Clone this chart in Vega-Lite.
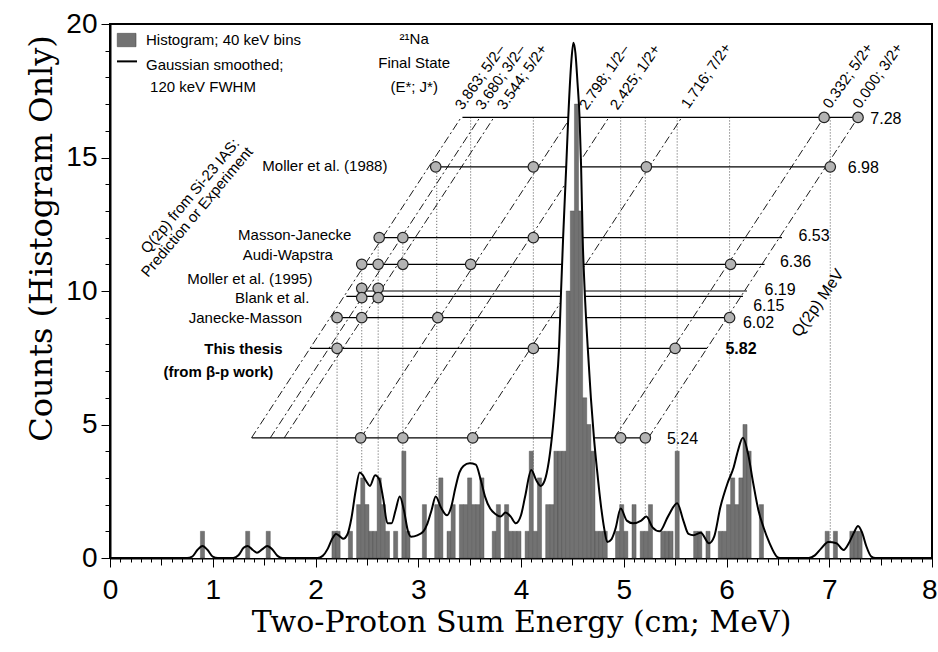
{
 "$schema": "https://vega.github.io/schema/vega-lite/v6.json",
 "width": 822, "height": 534,
 "autosize": {"type": "none"},
 "padding": {"left": 110, "top": 24, "right": 6, "bottom": 94},
 "background": "white",
 "config": {"view": {"stroke": "black", "strokeWidth": 2}, "font": "Liberation Sans", "text": {"font": "Liberation Sans", "fontSize": 15, "color": "black"},
  "axisX": {"tickCount": 80, "labelOverlap": false, "labelFlush": false, "grid": false},
  "axisY": {"tickCount": 20, "labelOverlap": false, "labelFlush": false, "grid": false}},
 "datasets": {
  "hist": [{"x0":0.88,"x1":0.92,"c":1},{"x0":1.32,"x1":1.36,"c":1},{"x0":1.52,"x1":1.56,"c":1},{"x0":2.16,"x1":2.2,"c":1},{"x0":2.2,"x1":2.24,"c":1},{"x0":2.32,"x1":2.36,"c":1},{"x0":2.4,"x1":2.44,"c":2},{"x0":2.44,"x1":2.48,"c":3},{"x0":2.48,"x1":2.52,"c":2},{"x0":2.52,"x1":2.56,"c":1},{"x0":2.56,"x1":2.6,"c":1},{"x0":2.6,"x1":2.64,"c":3},{"x0":2.64,"x1":2.68,"c":2},{"x0":2.68,"x1":2.72,"c":1},{"x0":2.76,"x1":2.8,"c":1},{"x0":2.84,"x1":2.88,"c":4},{"x0":2.88,"x1":2.92,"c":1},{"x0":3.04,"x1":3.08,"c":2},{"x0":3.16,"x1":3.2,"c":2},{"x0":3.2,"x1":3.24,"c":3},{"x0":3.28,"x1":3.32,"c":1},{"x0":3.32,"x1":3.36,"c":2},{"x0":3.4,"x1":3.44,"c":2},{"x0":3.44,"x1":3.48,"c":2},{"x0":3.48,"x1":3.52,"c":3},{"x0":3.52,"x1":3.56,"c":2},{"x0":3.56,"x1":3.6,"c":2},{"x0":3.6,"x1":3.64,"c":3},{"x0":3.72,"x1":3.76,"c":1},{"x0":3.76,"x1":3.8,"c":2},{"x0":3.84,"x1":3.88,"c":2},{"x0":3.88,"x1":3.92,"c":1},{"x0":3.92,"x1":3.96,"c":1},{"x0":3.96,"x1":4.0,"c":1},{"x0":4.04,"x1":4.08,"c":1},{"x0":4.08,"x1":4.12,"c":4},{"x0":4.12,"x1":4.16,"c":1},{"x0":4.16,"x1":4.2,"c":3},{"x0":4.24,"x1":4.28,"c":2},{"x0":4.28,"x1":4.32,"c":2},{"x0":4.32,"x1":4.36,"c":4},{"x0":4.36,"x1":4.4,"c":4},{"x0":4.4,"x1":4.44,"c":4},{"x0":4.44,"x1":4.48,"c":10},{"x0":4.48,"x1":4.52,"c":13},{"x0":4.52,"x1":4.56,"c":17},{"x0":4.56,"x1":4.6,"c":13},{"x0":4.6,"x1":4.64,"c":6},{"x0":4.64,"x1":4.68,"c":5},{"x0":4.68,"x1":4.72,"c":4},{"x0":4.72,"x1":4.76,"c":1},{"x0":4.76,"x1":4.8,"c":1},{"x0":4.8,"x1":4.84,"c":1},{"x0":4.92,"x1":4.96,"c":1},{"x0":4.96,"x1":5.0,"c":2},{"x0":5.0,"x1":5.04,"c":1},{"x0":5.08,"x1":5.12,"c":2},{"x0":5.16,"x1":5.2,"c":1},{"x0":5.2,"x1":5.24,"c":1},{"x0":5.24,"x1":5.28,"c":2},{"x0":5.36,"x1":5.4,"c":1},{"x0":5.4,"x1":5.44,"c":1},{"x0":5.44,"x1":5.48,"c":1},{"x0":5.5,"x1":5.54,"c":4},{"x0":5.68,"x1":5.72,"c":1},{"x0":5.72,"x1":5.76,"c":1},{"x0":5.8,"x1":5.84,"c":1},{"x0":5.92,"x1":5.96,"c":1},{"x0":5.96,"x1":6.0,"c":1},{"x0":6.0,"x1":6.04,"c":2},{"x0":6.04,"x1":6.08,"c":3},{"x0":6.08,"x1":6.12,"c":2},{"x0":6.12,"x1":6.16,"c":3},{"x0":6.16,"x1":6.2,"c":5},{"x0":6.2,"x1":6.24,"c":4},{"x0":6.32,"x1":6.36,"c":2},{"x0":6.96,"x1":7.0,"c":1},{"x0":7.04,"x1":7.08,"c":1},{"x0":7.2,"x1":7.24,"c":1},{"x0":7.24,"x1":7.28,"c":1},{"x0":7.28,"x1":7.32,"c":1}],
  "curve": [{"e":0,"c":0},{"e":0.75,"c":0},{"e":0.8,"c":0.05},{"e":0.85,"c":0.3},{"e":0.9,"c":0.45},{"e":0.95,"c":0.3},{"e":1.0,"c":0.05},{"e":1.05,"c":0},{"e":1.2,"c":0},{"e":1.25,"c":0.1},{"e":1.3,"c":0.38},{"e":1.34,"c":0.45},{"e":1.39,"c":0.3},{"e":1.43,"c":0.2},{"e":1.48,"c":0.32},{"e":1.53,"c":0.45},{"e":1.58,"c":0.32},{"e":1.63,"c":0.08},{"e":1.68,"c":0},{"e":2.02,"c":0},{"e":2.07,"c":0.08},{"e":2.12,"c":0.35},{"e":2.16,"c":0.7},{"e":2.2,"c":0.9},{"e":2.24,"c":0.8},{"e":2.27,"c":0.72},{"e":2.31,"c":0.88},{"e":2.35,"c":1.5},{"e":2.39,"c":2.5},{"e":2.43,"c":3.2},{"e":2.46,"c":3.1},{"e":2.49,"c":2.9},{"e":2.53,"c":2.7},{"e":2.58,"c":3.1},{"e":2.62,"c":2.95},{"e":2.66,"c":2.2},{"e":2.7,"c":1.3},{"e":2.74,"c":1.3},{"e":2.78,"c":1.8},{"e":2.82,"c":2.3},{"e":2.86,"c":1.8},{"e":2.9,"c":1.0},{"e":2.93,"c":0.8},{"e":2.99,"c":0.85},{"e":3.05,"c":1.0},{"e":3.09,"c":1.3},{"e":3.13,"c":1.8},{"e":3.17,"c":2.3},{"e":3.22,"c":1.9},{"e":3.28,"c":1.6},{"e":3.32,"c":1.9},{"e":3.36,"c":2.6},{"e":3.4,"c":3.2},{"e":3.44,"c":3.45},{"e":3.5,"c":3.55},{"e":3.56,"c":3.5},{"e":3.61,"c":2.9},{"e":3.65,"c":2.3},{"e":3.7,"c":1.85},{"e":3.75,"c":1.65},{"e":3.8,"c":1.55},{"e":3.85,"c":1.7},{"e":3.9,"c":1.55},{"e":3.95,"c":1.3},{"e":4.0,"c":1.6},{"e":4.04,"c":2.3},{"e":4.1,"c":3.3},{"e":4.15,"c":2.9},{"e":4.19,"c":2.7},{"e":4.23,"c":2.9},{"e":4.27,"c":3.6},{"e":4.3,"c":4.5},{"e":4.34,"c":6.2},{"e":4.37,"c":7.85},{"e":4.39,"c":10.0},{"e":4.41,"c":12.0},{"e":4.44,"c":14.65},{"e":4.46,"c":16.5},{"e":4.49,"c":18.6},{"e":4.51,"c":19.3},{"e":4.53,"c":18.9},{"e":4.55,"c":17.8},{"e":4.57,"c":16.5},{"e":4.585,"c":14.65},{"e":4.6,"c":12.0},{"e":4.62,"c":10.0},{"e":4.65,"c":7.85},{"e":4.68,"c":6.0},{"e":4.71,"c":4.5},{"e":4.74,"c":3.3},{"e":4.78,"c":1.9},{"e":4.81,"c":1.1},{"e":4.84,"c":0.6},{"e":4.88,"c":0.7},{"e":4.92,"c":1.1},{"e":4.97,"c":1.85},{"e":5.03,"c":1.4},{"e":5.09,"c":1.3},{"e":5.17,"c":1.4},{"e":5.22,"c":1.55},{"e":5.28,"c":1.15},{"e":5.35,"c":1.0},{"e":5.43,"c":1.55},{"e":5.52,"c":2.05},{"e":5.58,"c":1.4},{"e":5.63,"c":0.9},{"e":5.68,"c":0.85},{"e":5.75,"c":0.95},{"e":5.83,"c":0.55},{"e":5.88,"c":0.8},{"e":5.94,"c":1.9},{"e":6.01,"c":2.8},{"e":6.07,"c":3.4},{"e":6.11,"c":4.0},{"e":6.16,"c":4.5},{"e":6.21,"c":3.9},{"e":6.26,"c":2.8},{"e":6.31,"c":1.8},{"e":6.36,"c":1.15},{"e":6.42,"c":0.55},{"e":6.49,"c":0.05},{"e":6.52,"c":0},{"e":6.8,"c":0},{"e":6.86,"c":0.1},{"e":6.92,"c":0.35},{"e":6.99,"c":0.6},{"e":7.07,"c":0.55},{"e":7.14,"c":0.3},{"e":7.19,"c":0.55},{"e":7.24,"c":0.95},{"e":7.28,"c":1.2},{"e":7.32,"c":0.95},{"e":7.36,"c":0.45},{"e":7.41,"c":0.05},{"e":7.45,"c":0},{"e":8,"c":0}],
  "verts": [{"e":2.21,"top":9.0},{"e":2.45,"top":11.0},{"e":2.61,"top":12.0},{"e":2.85,"top":12.0},{"e":3.18,"top":14.65},{"e":3.51,"top":16.5},{"e":4.12,"top":16.5},{"e":4.97,"top":16.5},{"e":5.21,"top":16.5},{"e":5.52,"top":16.5},{"e":6.03,"top":16.5},{"e":7.01,"top":16.5}],
  "diags": [{"s":"3.863","xa":1.377,"ya":4.5,"xb":3.417,"yb":16.5},{"s":"3.680","xa":1.56,"ya":4.5,"xb":3.6,"yb":16.5},{"s":"3.544","xa":1.696,"ya":4.5,"xb":3.736,"yb":16.5},{"s":"2.798","xa":2.442,"ya":4.5,"xb":4.482,"yb":16.5},{"s":"2.425","xa":2.815,"ya":4.5,"xb":4.855,"yb":16.5},{"s":"1.716","xa":3.524,"ya":4.5,"xb":5.564,"yb":16.5},{"s":"0.332","xa":4.908,"ya":4.5,"xb":6.948,"yb":16.5},{"s":"0.000","xa":5.24,"ya":4.5,"xb":7.28,"yb":16.5}],
  "rows": [{"q":"7.28","y":16.5,"xs":3.43,"xe":7.28,"lx":7.4,"ly":16.45},{"q":"6.98","y":14.65,"xs":3.17,"xe":7.01,"lx":7.18,"ly":14.6},{"q":"6.53","y":12.0,"xs":2.62,"xe":6.54,"lx":6.7,"ly":12.05},{"q":"6.36","y":11.0,"xs":2.45,"xe":6.37,"lx":6.52,"ly":11.08},{"q":"6.19","y":10.0,"xs":2.4,"xe":6.2,"lx":6.37,"ly":10.04},{"q":"6.15","y":9.8,"xs":2.3,"xe":6.16,"lx":6.26,"ly":9.44},{"q":"6.02","y":9.0,"xs":2.21,"xe":6.03,"lx":6.16,"ly":8.81},{"q":"5.82","y":7.85,"xs":1.95,"xe":5.81,"lx":5.99,"ly":7.83},{"q":"5.24","y":4.5,"xs":1.38,"xe":5.21,"lx":5.42,"ly":4.46}],
  "circles": [{"e":6.95,"y":16.5},{"e":7.28,"y":16.5},{"e":3.17,"y":14.65},{"e":4.12,"y":14.65},{"e":5.22,"y":14.65},{"e":7.01,"y":14.65},{"e":2.62,"y":12.0},{"e":2.85,"y":12.0},{"e":4.12,"y":12.0},{"e":2.45,"y":11.0},{"e":2.61,"y":11.0},{"e":2.85,"y":11.0},{"e":3.51,"y":11.0},{"e":6.04,"y":11.0},{"e":2.45,"y":10.1},{"e":2.61,"y":10.1},{"e":2.45,"y":9.75},{"e":2.61,"y":9.75},{"e":2.21,"y":9.0},{"e":2.45,"y":9.0},{"e":3.19,"y":9.0},{"e":6.03,"y":9.0},{"e":2.21,"y":7.85},{"e":4.12,"y":7.85},{"e":5.5,"y":7.85},{"e":2.44,"y":4.5},{"e":2.85,"y":4.5},{"e":3.53,"y":4.5},{"e":4.97,"y":4.5},{"e":5.21,"y":4.5}],
  "levels": [{"t":"3.863; 5/2–","x":3.43,"y":16.75},{"t":"3.680; 3/2–","x":3.63,"y":16.75},{"t":"3.544; 5/2+","x":3.84,"y":16.75},{"t":"2.798; 1/2–","x":4.64,"y":16.75},{"t":"2.425; 1/2+","x":4.94,"y":16.75},{"t":"1.716; 7/2+","x":5.63,"y":16.8},{"t":"0.332; 5/2+","x":7.01,"y":16.8},{"t":"0.000; 3/2+","x":7.3,"y":16.8}],
  "names": [{"t":"Moller et al. (1988)","x":2.7,"y":14.68},{"t":"Masson-Janecke","x":2.35,"y":12.1},{"t":"Audi-Wapstra","x":2.17,"y":11.35},{"t":"Moller et al. (1995)","x":1.97,"y":10.44},{"t":"Blank et al.","x":1.94,"y":9.74},{"t":"Janecke-Masson","x":1.87,"y":8.99}],
  "boldnames": [{"t":"This thesis","x":1.68,"y":7.83},{"t":"(from β-p work)","x":1.59,"y":6.97}],
  "legbox": [{"x":0.071,"x2":0.253,"y":19.15,"y2":19.65}],
  "legline": [{"x":0.068,"x2":0.263,"y":18.6}],
  "lefttext": [{"t":"Histogram; 40 keV bins","x":0.35,"y":19.4},{"t":"Gaussian smoothed;","x":0.35,"y":18.48},{"t":"120 keV FWHM","x":0.39,"y":17.64}],
  "centertext": [{"t":"²¹Na","x":2.96,"y":19.42},{"t":"Final State","x":2.96,"y":18.55},{"t":"(E*; J*)","x":2.96,"y":17.65}],
  "rot50": [{"t":"Q(2p) from Si-23 IAS:","x":0.779,"y":13.56},{"t":"Prediction or Experiment","x":0.847,"y":12.96}],
  "rotq": [{"t":"Q(2p) MeV","x":6.89,"y":9.55}]
 },
 "layer": [
  {"data": {"name": "verts"},
   "mark": {"type": "rule", "stroke": "#555555", "strokeDash": [1, 2], "strokeWidth": 1},
   "encoding": {
    "x": {"field": "e", "type": "quantitative", "scale": {"domain": [0, 8], "nice": false, "zero": false},
     "axis": {"tickCount": 80,
      "title": "Two-Proton Sum Energy (cm; MeV)", "titleFont": "DejaVu Serif", "titleFontSize": 30, "titleFontWeight": "normal", "titleColor": "black", "titlePadding": 3,
      "labelFont": "Liberation Sans", "labelFontSize": 28, "labelColor": "black", "labelPadding": 9, "labelOverlap": false, "labelFlush": false,
      "labelExpr": "datum.value % 1 === 0 ? format(datum.value, 'd') : ''",
      "labelAlign": {"condition": {"test": "datum.value === 8", "value": "right"}, "value": "center"},
      "labelOffset": {"condition": {"test": "datum.value === 8", "value": 5}, "value": 0},
      "tickColor": "black", "tickWidth": 1, "tickSize": 9,
      "tickDash": {"condition": [{"test": "datum.value % 1 === 0", "value": [9, 0]}, {"test": "datum.value % 0.5 === 0", "value": [7, 20]}], "value": [4, 20]},
      "domainColor": "black", "domainWidth": 2, "grid": false}},
    "y": {"field": "top", "type": "quantitative", "scale": {"domain": [0, 20], "nice": false},
     "axis": {"tickCount": 20,
      "title": "Counts (Histogram Only)", "titleFont": "DejaVu Serif", "titleFontSize": 32, "titleFontWeight": "normal", "titleColor": "black", "titleX": -52, "titleY": 214,
      "labelFont": "Liberation Sans", "labelFontSize": 28, "labelColor": "black", "labelPadding": 4, "labelOverlap": false, "labelFlush": false,
      "labelExpr": "datum.value % 5 === 0 ? datum.label : ''",
      "tickColor": "black", "tickWidth": 1, "tickSize": 9,
      "tickDash": {"condition": {"test": "datum.value % 5 === 0", "value": [9, 0]}, "value": [5, 20]},
      "domainColor": "black", "domainWidth": 2, "grid": false}},
    "y2": {"datum": 0}
   }},
  {"data": {"name": "diags"},
   "mark": {"type": "rule", "stroke": "black", "strokeDash": [8, 3, 2, 3], "strokeWidth": 0.9},
   "encoding": {"x": {"field": "xa", "type": "quantitative"}, "x2": {"field": "xb"}, "y": {"field": "ya", "type": "quantitative"}, "y2": {"field": "yb"}}},
  {"data": {"name": "rows"},
   "mark": {"type": "rule", "stroke": "black", "strokeWidth": 1.2},
   "encoding": {"x": {"field": "xs", "type": "quantitative"}, "x2": {"field": "xe"}, "y": {"field": "y", "type": "quantitative"}}},
  {"data": {"name": "curve"},
   "mark": {"type": "area", "fill": "white", "interpolate": "monotone"},
   "encoding": {"x": {"field": "e", "type": "quantitative"}, "y": {"field": "c", "type": "quantitative", "stack": null}}},
  {"data": {"name": "hist"},
   "mark": {"type": "rect", "fill": "#727272", "stroke": "#4a4a4a", "strokeWidth": 0.4},
   "encoding": {"x": {"field": "x0", "type": "quantitative"}, "x2": {"field": "x1"}, "y": {"field": "c", "type": "quantitative"}, "y2": {"datum": 0}}},
  {"data": {"name": "curve"},
   "mark": {"type": "line", "stroke": "black", "strokeWidth": 2, "interpolate": "monotone"},
   "encoding": {"x": {"field": "e", "type": "quantitative"}, "y": {"field": "c", "type": "quantitative"}}},
  {"data": {"name": "circles"},
   "mark": {"type": "circle", "fill": "#b3b3b3", "stroke": "#222222", "strokeWidth": 1.2, "size": 110, "opacity": 1, "fillOpacity": 1},
   "encoding": {"x": {"field": "e", "type": "quantitative"}, "y": {"field": "y", "type": "quantitative"}}},
  {"data": {"name": "rows"},
   "transform": [{"filter": "datum.q !== '5.82'"}],
   "mark": {"type": "text", "align": "left", "baseline": "middle", "fontSize": 16},
   "encoding": {"x": {"field": "lx", "type": "quantitative"}, "y": {"field": "ly", "type": "quantitative"}, "text": {"field": "q"}}},
  {"data": {"name": "rows"},
   "transform": [{"filter": "datum.q === '5.82'"}],
   "mark": {"type": "text", "align": "left", "baseline": "middle", "fontSize": 16, "fontWeight": "bold"},
   "encoding": {"x": {"field": "lx", "type": "quantitative"}, "y": {"field": "ly", "type": "quantitative"}, "text": {"field": "q"}}},
  {"data": {"name": "levels"},
   "mark": {"type": "text", "align": "left", "baseline": "alphabetic", "angle": -55, "fontSize": 15},
   "encoding": {"x": {"field": "x", "type": "quantitative"}, "y": {"field": "y", "type": "quantitative"}, "text": {"field": "t"}}},
  {"data": {"name": "names"},
   "mark": {"type": "text", "align": "right", "baseline": "middle", "fontSize": 15},
   "encoding": {"x": {"field": "x", "type": "quantitative"}, "y": {"field": "y", "type": "quantitative"}, "text": {"field": "t"}}},
  {"data": {"name": "boldnames"},
   "mark": {"type": "text", "align": "right", "baseline": "middle", "fontSize": 15, "fontWeight": "bold"},
   "encoding": {"x": {"field": "x", "type": "quantitative"}, "y": {"field": "y", "type": "quantitative"}, "text": {"field": "t"}}},
  {"data": {"name": "legbox"},
   "mark": {"type": "rect", "fill": "#727272", "stroke": "#444444", "strokeWidth": 0.6},
   "encoding": {"x": {"field": "x", "type": "quantitative"}, "x2": {"field": "x2"}, "y": {"field": "y", "type": "quantitative"}, "y2": {"field": "y2"}}},
  {"data": {"name": "legline"},
   "mark": {"type": "rule", "stroke": "black", "strokeWidth": 2},
   "encoding": {"x": {"field": "x", "type": "quantitative"}, "x2": {"field": "x2"}, "y": {"field": "y", "type": "quantitative"}}},
  {"data": {"name": "lefttext"},
   "mark": {"type": "text", "align": "left", "baseline": "middle", "fontSize": 15},
   "encoding": {"x": {"field": "x", "type": "quantitative"}, "y": {"field": "y", "type": "quantitative"}, "text": {"field": "t"}}},
  {"data": {"name": "centertext"},
   "mark": {"type": "text", "align": "center", "baseline": "middle", "fontSize": 15},
   "encoding": {"x": {"field": "x", "type": "quantitative"}, "y": {"field": "y", "type": "quantitative"}, "text": {"field": "t"}}},
  {"data": {"name": "rot50"},
   "mark": {"type": "text", "align": "center", "baseline": "middle", "angle": -50, "fontSize": 15},
   "encoding": {"x": {"field": "x", "type": "quantitative"}, "y": {"field": "y", "type": "quantitative"}, "text": {"field": "t"}}},
  {"data": {"name": "rotq"},
   "mark": {"type": "text", "align": "center", "baseline": "middle", "angle": -55, "fontSize": 16},
   "encoding": {"x": {"field": "x", "type": "quantitative"}, "y": {"field": "y", "type": "quantitative"}, "text": {"field": "t"}}}
 ]
}
